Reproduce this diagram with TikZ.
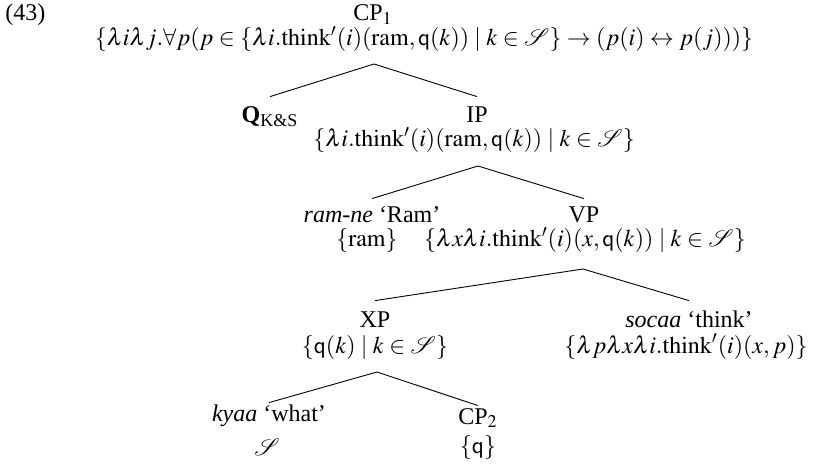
\documentclass[tikz,border=0pt]{standalone}
\usepackage{amsmath}
\usepackage{mathptmx}
\usepackage{mathrsfs}
\usepackage[no-math]{fontspec}
\setmainfont{Liberation Serif}
\tikzset{
  lbl/.style={anchor=base, inner sep=0pt, text height=8pt, text depth=0pt, font=\fontsize{12}{14}\selectfont},
  sem/.style={anchor=base, inner sep=0pt, font=\fontsize{12}{14}\selectfont},
  branch/.style={draw=black, line width=0.45pt}
}
\begin{document}
\begin{tikzpicture}[x=0.5pt, y=-0.5pt]
\useasboundingbox (0,0) rectangle (813,470);
% example number
\node[sem, anchor=base west] (num) at (5,21) {(43)};
% CP1
\node[lbl] (cp1) at (373,21) {CP$_1$};
\node[sem] (cp1f) at (424,46) {$\{\lambda i\lambda j.\forall p(p\in\{\lambda i.\mathrm{think}'(i)(\mathrm{ram},\mathsf{q}(k))\mid k\in\mathscr{S}\}\rightarrow(p(i)\leftrightarrow p(j)))\}$};
\coordinate (cp1a) at (374,64);
% Q and IP
\node[lbl] (q) at (270,123) {\textbf{Q}$_{\text{K\&S}}$};
\node[lbl] (ip) at (477,123) {IP};
\node[sem] (ipf) at (474,147) {$\{\lambda i.\mathrm{think}'(i)(\mathrm{ram},\mathsf{q}(k))\mid k\in\mathscr{S}\}$};
\coordinate (ipa) at (478,166);
% ram-ne and VP
\node[lbl] (ram) at (372,222) {\textit{ram-ne} `Ram'};
\node[sem] (ramf) at (367,247) {$\{\mathrm{ram}\}$};
\node[lbl] (vp) at (584,222) {VP};
\node[sem] (vpf) at (585,247) {$\{\lambda x\lambda i.\mathrm{think}'(i)(x,\mathsf{q}(k))\mid k\in\mathscr{S}\}$};
\coordinate (vpa) at (583,269);
% XP and socaa
\node[lbl] (xp) at (375,327) {XP};
\node[sem] (xpf) at (375,353) {$\{\mathsf{q}(k)\mid k\in\mathscr{S}\}$};
\node[lbl] (soc) at (689,327) {\textit{socaa} `think'};
\node[sem] (socf) at (686,353) {$\{\lambda p\lambda x\lambda i.\mathrm{think}'(i)(x,p)\}$};
\coordinate (xpa) at (377,372);
% kyaa and CP2
\node[lbl] (kyaa) at (269,421) {\textit{kyaa} `what'};
\node[sem] (kyaaf) at (267,455) {$\mathscr{S}$};
\node[lbl] (cp2) at (478,424) {CP$_2$};
\node[sem] (cp2f) at (478,453) {$\{\mathsf{q}\}$};
% branches
\draw[branch] (cp1a) -- ([yshift=5pt]q.north);
\draw[branch] (cp1a) -- ([yshift=5pt]ip.north);
\draw[branch] (ipa) -- ([yshift=3.5pt]ram.north);
\draw[branch] (ipa) -- ([yshift=3.5pt]vp.north);
\draw[branch] (vpa) -- ([yshift=5pt]xp.north);
\draw[branch] (vpa) -- ([yshift=5pt]soc.north);
\draw[branch] (xpa) -- ([yshift=1pt]kyaa.north);
\draw[branch] (xpa) -- ([yshift=1pt]cp2.north);
\end{tikzpicture}
\end{document}
